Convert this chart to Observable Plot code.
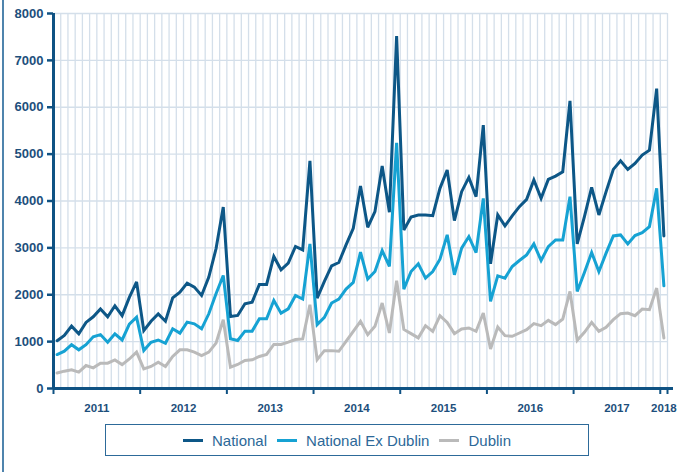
<!DOCTYPE html>
<html>
<head>
<meta charset="utf-8">
<script src="https://cdn.jsdelivr.net/npm/d3@7"></script>
<script src="https://cdn.jsdelivr.net/npm/@observablehq/plot@0.6"></script>
<style>
  html, body { margin: 0; padding: 0; background: #fff; }
  #wrap { position: relative; width: 688px; height: 472px; overflow: hidden; font-family: "Liberation Sans", Arial, sans-serif; }
  #frame { position: absolute; left: 2px; top: 0; width: 1.5px; height: 472px; background: #4f84ad; }
  #legend { position: absolute; left: 105px; top: 424px; width: 482px; height: 30px; border: 1.5px solid #2d6a99;
            display: flex; align-items: center; justify-content: center; gap: 0; }
  .item { display: flex; align-items: center; margin: 0 5px; }
  .sw { width: 20px; height: 3px; margin-right: 9px; }
  .lab { font-size: 15px; color: #2c6898; }
</style>
</head>
<body>
<div id="wrap"><div id="frame"></div><div id="chart"></div><div id="legend"></div></div>
<script>
// Monthly values, Jan 2011 .. Jan 2018
const national = [
  1020, 1130, 1330, 1165, 1410, 1530, 1695, 1530, 1765, 1555, 1945, 2275,
  1235, 1435, 1590, 1435, 1935, 2056, 2248, 2163, 1985, 2376, 2981, 3870,
  1537, 1558, 1807, 1843, 2220, 2220, 2817, 2533, 2675, 3031, 2957, 4858,
  1929, 2284, 2617, 2688, 3064, 3418, 4319, 3440, 3773, 4745, 3759, 7518,
  3383, 3660, 3702, 3702, 3688, 4270, 4660, 3582, 4199, 4504, 4092, 5617,
  2660, 3702, 3468, 3681, 3879, 4035, 4447, 4057, 4461, 4532, 4624, 6135,
  3085, 3667, 4291, 3702, 4199, 4674, 4858, 4674, 4801, 4979, 5085, 6397,
  3255
];
const nationalExDublin = [
  725, 795, 935, 825, 935, 1105, 1150, 985, 1165, 1035, 1375, 1520,
  810, 985, 1035, 965, 1274, 1181, 1416, 1380, 1274, 1594, 2021, 2412,
  1060, 1025, 1224, 1224, 1487, 1487, 1878, 1608, 1700, 1985, 1908, 3085,
  1362, 1518, 1823, 1908, 2120, 2262, 2908, 2333, 2496, 2943, 2603, 5241,
  2120, 2496, 2660, 2355, 2496, 2759, 3277, 2426, 2993, 3241, 2901, 4057,
  1858, 2404, 2355, 2603, 2730, 2851, 3085, 2730, 3028, 3170, 3170, 4092,
  2071, 2475, 2901, 2496, 2887, 3255, 3277, 3085, 3262, 3326, 3454, 4270,
  2191
];
const dublin = [
  330, 370, 400, 350, 490, 440, 540, 540, 610, 510, 630, 775,
  420, 470, 560, 470, 683, 825, 825, 776, 704, 776, 968, 1466,
  455, 512, 598, 612, 683, 726, 939, 939, 989, 1046, 1057, 1787,
  617, 808, 808, 794, 1007, 1220, 1433, 1149, 1326, 1823, 1184, 2298,
  1260, 1170, 1080, 1340, 1220, 1553, 1411, 1170, 1270, 1291, 1220, 1610,
  844, 1312, 1128, 1113, 1184, 1255, 1383, 1340, 1454, 1362, 1482, 2071,
  1028, 1199, 1411, 1220, 1305, 1468, 1596, 1610, 1553, 1695, 1681, 2142,
  1078
];
const yearLabels = ["2011", "2012", "2013", "2014", "2015", "2016", "2017", "2018"];
const seriesNames = ["National", "National Ex Dublin", "Dublin"];
const seriesColors = ["#0d5787", "#16a2d3", "#bababa"];
const yTicks = [0, 1000, 2000, 3000, 4000, 5000, 6000, 7000, 8000];

const n = national.length;
const seriesValues = [national, nationalExDublin, dublin];
const rows = seriesValues.flatMap((vals, s) => vals.map((v, i) => ({i, value: v, series: seriesNames[s]})));

// Month index positions: band boundaries and year centres
const boundaries = d3.range(n + 1).map(k => k - 0.5);
const yearStarts = yearLabels.map((_, k) => k * 12);
const yearBoundaries = [...yearStarts.map(s => s - 0.5), n - 0.5];
const yearCenters = yearLabels.map((_, k) => Math.min(k * 12 + 5.5, n - 1));

const axisColor = "#0f5283";
const labelColor = "#1d4f7c";
const gridColor = "#d4dfea";

const chart = Plot.plot({
  width: 688,
  height: 420,
  marginLeft: 53,
  marginRight: 21,
  marginTop: 13,
  marginBottom: 32,
  style: {fontFamily: "'Liberation Sans', Arial, sans-serif", background: "transparent", overflow: "visible"},
  x: {domain: [-0.5, n - 0.5], label: null},
  y: {domain: [0, 8000], label: null},
  marks: [
    Plot.ruleX(boundaries, {x: d => d, stroke: gridColor, strokeWidth: 1.3}),
    Plot.ruleY(yTicks.slice(1), {y: d => d, stroke: gridColor, strokeWidth: 1.3}),
    ...seriesNames.map((name, s) =>
      Plot.line(rows.filter(r => r.series === name), {
        x: "i", y: "value", stroke: seriesColors[s], strokeWidth: 3,
        strokeLinejoin: "miter", strokeMiterlimit: 3
      })
    ),
    Plot.ruleX([-0.5], {x: d => d, stroke: axisColor, strokeWidth: 3}),
    Plot.ruleY([0], {y: d => d, stroke: axisColor, strokeWidth: 3, insetRight: -6}),
    Plot.axisY({ticks: yTicks, tickSize: 6, tickPadding: 4, tickFormat: d3.format("d"),
      color: labelColor, stroke: axisColor, strokeWidth: 2.5, fontSize: 13, fontWeight: "bold", label: null}),
    Plot.axisX({ticks: yearBoundaries, tickSize: 6, tickFormat: () => "", stroke: axisColor, strokeWidth: 2, label: null}),
    Plot.axisX({ticks: yearCenters, tickSize: 0, tickPadding: 15,
      tickFormat: d => yearLabels[yearCenters.indexOf(d)],
      color: labelColor, fontSize: 11.5, fontWeight: "bold", label: null})
  ]
});
document.getElementById("chart").appendChild(chart);

const legend = document.getElementById("legend");
seriesNames.forEach((name, s) => {
  const item = document.createElement("div");
  item.className = "item";
  const sw = document.createElement("div");
  sw.className = "sw";
  sw.style.background = seriesColors[s];
  const lab = document.createElement("span");
  lab.className = "lab";
  lab.textContent = name;
  item.appendChild(sw);
  item.appendChild(lab);
  legend.appendChild(item);
});
</script>
</body>
</html>
